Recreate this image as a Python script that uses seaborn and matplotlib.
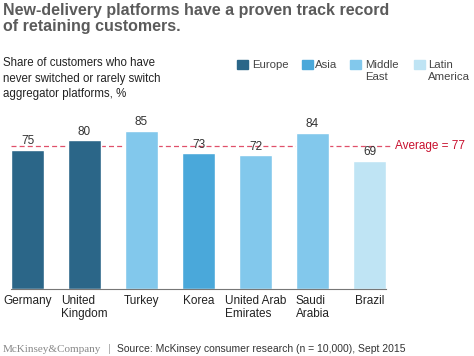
import matplotlib
matplotlib.use("Agg")
import matplotlib.pyplot as plt
import seaborn as sns
import pandas as pd

countries = ["Germany", "United\nKingdom", "Turkey", "Korea",
             "United Arab\nEmirates", "Saudi\nArabia", "Brazil"]
regions = ["Europe", "Europe", "Middle East", "Asia",
           "Middle East", "Middle East", "Latin America"]
shares = [75, 80, 85, 73, 72, 84, 69]
average = 77

region_order = ["Europe", "Asia", "Middle East", "Latin America"]
legend_labels = ["Europe", "Asia", "Middle\nEast", "Latin\nAmerica"]
palette = {"Europe": "#2b6688", "Asia": "#4aa8da",
           "Middle East": "#82c8ec", "Latin America": "#bfe4f4"}

df = pd.DataFrame({"country": countries, "region": regions, "share": shares})

sns.set_style("white")
plt.rcParams["font.family"] = ["Liberation Sans", "DejaVu Sans"]

fig = plt.figure(figsize=(4.74, 3.56), dpi=100)
ax = fig.add_axes([11 / 474, 1 - 289 / 356, 375 / 474, 186 / 356])

sns.barplot(data=df, x="country", y="share", hue="region",
            hue_order=region_order, palette=palette, dodge=False,
            width=0.58, saturation=1, legend=False, ax=ax)

ax.set_xlim(-0.29, 6.29)
ax.set_ylim(0, 100)
ax.set_xlabel("")
ax.set_ylabel("")
ax.set_yticks([])
sns.despine(ax=ax, left=True)
ax.spines["bottom"].set_color("#777777")
ax.spines["bottom"].set_linewidth(0.8)
ax.tick_params(axis="x", length=0, pad=4, labelsize=8.5, colors="#222222")
for lbl in ax.get_xticklabels():
    lbl.set_multialignment("left")
    lbl.set_verticalalignment("top")

for i, v in enumerate(shares):
    ax.text(i, v + 1.3, str(v), ha="center", va="bottom",
            fontsize=8.5, color="#333333")

ax.plot([-0.29, 6.4], [average, average], ls=(0, (4, 2.5)),
        color="#e0506a", lw=0.9, clip_on=False, zorder=0.5)
ax.text(6.45, average, f"Average = {average}", ha="left", va="center",
        fontsize=8.5, color="#c8102e")

fig.text(3 / 474, 1 - 3 / 356, "New-delivery platforms have a proven track record\nof retaining customers.",
         ha="left", va="top", fontsize=11.5, fontweight="bold",
         color="#5b5b5b", linespacing=1.05)
fig.text(3 / 474, 1 - 57 / 356,
         "Share of customers who have\nnever switched or rarely switch\naggregator platforms, %",
         ha="left", va="top", fontsize=8.3, color="#222222",
         linespacing=1.4)

# legend drawn as figure patches + text
leg_sq = [237, 302, 350, 414]
leg_tx = [252, 315, 365, 428]
for sq, tx, reg, lab in zip(leg_sq, leg_tx, region_order, legend_labels):
    fig.patches.append(plt.Rectangle((sq / 474, 1 - 69 / 356), 11 / 474, 9 / 356,
                                     transform=fig.transFigure,
                                     color=palette[reg]))
    fig.text(tx / 474, 1 - 60 / 356, lab, ha="left", va="top",
             fontsize=8.2, color="#444444", linespacing=1.3)

fig.text(3 / 474, 1 - 349 / 356, "McKinsey&Company", ha="left", va="center",
         fontsize=8, color="#888888", family=["Liberation Serif", "DejaVu Serif"])
fig.text(109 / 474, 1 - 349 / 356, "|", ha="center", va="center",
         fontsize=8, color="#aaaaaa")
fig.text(117 / 474, 1 - 349 / 356,
         "Source: McKinsey consumer research (n = 10,000), Sept 2015",
         ha="left", va="center", fontsize=7.5, color="#333333")

fig.savefig("out.png", dpi=100)
